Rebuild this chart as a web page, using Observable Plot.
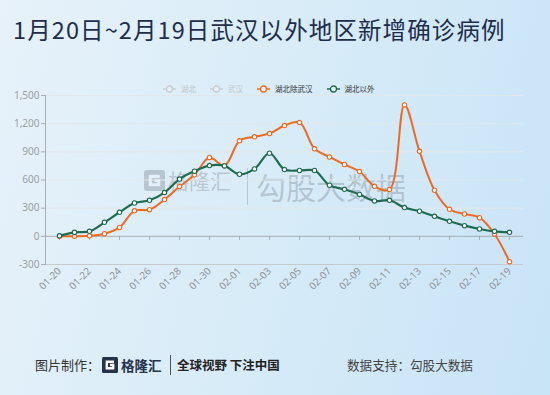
<!DOCTYPE html>
<html><head><meta charset="utf-8">
<script src="https://cdn.jsdelivr.net/npm/d3@7"></script>
<script src="https://cdn.jsdelivr.net/npm/@observablehq/plot@0.6"></script>
<style>
body{margin:0;}
#root{position:relative;width:550px;height:395px;overflow:hidden;background:linear-gradient(105deg,#e7f2fa 0%,#d9ecf8 45%,#c8e4f7 100%);font-family:"Noto Sans CJK SC","Noto Sans",sans-serif;}
#title{position:absolute;left:13px;top:13px;font-size:23.5px;line-height:32px;color:#1e2d4c;white-space:nowrap;letter-spacing:1.1px;}
#legend{position:absolute;left:163px;top:83px;height:12px;display:flex;gap:14px;align-items:center;font-size:7.5px;line-height:12px;}
#legend .item{display:flex;align-items:center;gap:5px;}
#chart{position:absolute;left:0;top:85px;z-index:2;}
#wm{position:absolute;left:0;top:0;width:550px;height:395px;z-index:1;color:rgba(105,115,125,0.33);}
#wm span{position:absolute;white-space:nowrap;}
#footer span{position:absolute;white-space:nowrap;line-height:16px;top:357px;}
</style></head>
<body>
<div id="root">
  <div id="title"></div>
  <div id="legend"></div>
  <div id="wm">
    <svg style="position:absolute;left:144px;top:170px" width="21" height="21" viewBox="0 0 20 20"><rect x="0" y="0" width="20" height="20" rx="3" fill="rgba(105,115,125,0.33)"/><path d="M15 6 H6 V14 H14 V10 H10" stroke="#e3f0f9" stroke-width="3" fill="none"/></svg>
    <span style="left:168px;top:166px;font-size:21px;line-height:28px;">格隆汇</span>
    <div style="position:absolute;left:247px;top:168px;width:1px;height:37px;background:rgba(105,115,125,0.3)"></div>
    <span style="left:256px;top:166px;font-size:30px;line-height:40px;">勾股大数据</span>
  </div>
  <div id="chart"></div>
  <div id="footer">
    <span style="left:35px;font-size:13px;color:#333;">图片制作：</span>
    <svg style="position:absolute;left:102px;top:357px" width="16" height="16" viewBox="0 0 20 20"><rect x="0" y="0" width="20" height="20" rx="2" fill="#24324a"/><path d="M15 6 H6 V14 H14 V10 H10" stroke="#ffffff" stroke-width="3" fill="none"/></svg>
    <span style="left:121px;font-size:13.5px;color:#24324a;font-weight:bold;">格隆汇</span>
    <div style="position:absolute;left:170px;top:355px;width:1px;height:20px;background:#555;"></div>
    <span style="left:177px;font-size:12.5px;color:#222;font-weight:bold;">全球视野 下注中国</span>
    <span style="left:347px;font-size:12.6px;color:#444;">数据支持：勾股大数据</span>
  </div>
</div>
<script>
const titleText = "1月20日~2月19日武汉以外地区新增确诊病例";
const dates = ["01-20","01-21","01-22","01-23","01-24","01-25","01-26","01-27","01-28","01-29","01-30","01-31",
  "02-01","02-02","02-03","02-04","02-05","02-06","02-07","02-08","02-09","02-10","02-11","02-12","02-13","02-14",
  "02-15","02-16","02-17","02-18","02-19"];
const hubeiExWuhan = [0, 0, 5, 28, 95, 272, 284, 391, 530, 655, 840, 752, 1017, 1060, 1095, 1180, 1213, 932, 846, 765, 690, 533, 498, 1400, 905, 491, 288, 238, 199, 25, -270];
const outsideHubei = [5, 43, 53, 149, 256, 355, 384, 466, 610, 694, 754, 750, 661, 718, 885, 711, 701, 701, 544, 501, 446, 377, 384, 306, 267, 213, 160, 114, 78, 53, 43];
const legendNames = ["湖北", "武汉", "湖北除武汉", "湖北以外"];
const legendColors = ["#c8ccd0", "#c8ccd0", "#ee6a24", "#1f6b50"];
const legendText = ["#c3c7cb", "#c3c7cb", "#333333", "#333333"];
const yTicks = [-300, 0, 300, 600, 900, 1200, 1500];

document.getElementById("title").textContent = titleText;

const legend = document.getElementById("legend");
legendNames.forEach((name, i) => {
  const item = document.createElement("div");
  item.className = "item";
  item.innerHTML = `<svg width="13" height="8"><line x1="0" y1="4" x2="13" y2="4" stroke="${legendColors[i]}" stroke-width="1.5"/><circle cx="6.5" cy="4" r="3" fill="#e4f1fa" stroke="${legendColors[i]}" stroke-width="1.3"/></svg><span style="color:${legendText[i]}">${name}</span>`;
  legend.appendChild(item);
});

const labelDates = dates.filter((d, i) => i % 2 === 0);
const rowsA = dates.map((d, i) => ({date: d, value: hubeiExWuhan[i]}));
const rowsB = dates.map((d, i) => ({date: d, value: outsideHubei[i]}));

const chart = Plot.plot({
  width: 550, height: 225,
  marginLeft: 45, marginRight: 27, marginTop: 10, marginBottom: 46,
  style: {background: "transparent", overflow: "visible", fontFamily: "'Noto Sans', sans-serif"},
  x: {type: "point", domain: dates, padding: 0.5},
  y: {domain: [-300, 1500]},
  marks: [
    Plot.ruleY(yTicks.filter(v => v !== 0 && v !== -300), {stroke: "#e2e7eb", strokeWidth: 1.2}),
    Plot.ruleY([-300], {stroke: "#c5cacf"}),
    Plot.ruleY([0], {stroke: "#a8aeb3"}),
    Plot.ruleX(labelDates, {y1: 0, y2: 0, insetBottom: -4, stroke: "#a8aeb3"}),
    Plot.frame({anchor: "left", stroke: "#a8aeb3"}),
    Plot.axisY({ticks: yTicks, tickSize: 4, tickPadding: 2, tickFormat: d => d.toLocaleString("en-US"), label: null, fontSize: 10, stroke: "#a8aeb3", fill: "#9a9ea3"}),
    Plot.axisX({ticks: labelDates, tickSize: 0, tickRotate: -45, tickPadding: 5, label: null, fontSize: 10, fill: "#8f9398"}),
    Plot.line(rowsA, {x: "date", y: "value", stroke: "#ee6a24", strokeWidth: 2, curve: "catmull-rom"}),
    Plot.dot(rowsA, {x: "date", y: "value", r: 2.2, fill: "white", stroke: "#ee6a24", strokeWidth: 1.1}),
    Plot.line(rowsB, {x: "date", y: "value", stroke: "#1f6b50", strokeWidth: 2.2, curve: "catmull-rom"}),
    Plot.dot(rowsB, {x: "date", y: "value", r: 2.2, fill: "white", stroke: "#1f6b50", strokeWidth: 1.1})
  ]
});
document.getElementById("chart").appendChild(chart);
</script>
</body></html>
